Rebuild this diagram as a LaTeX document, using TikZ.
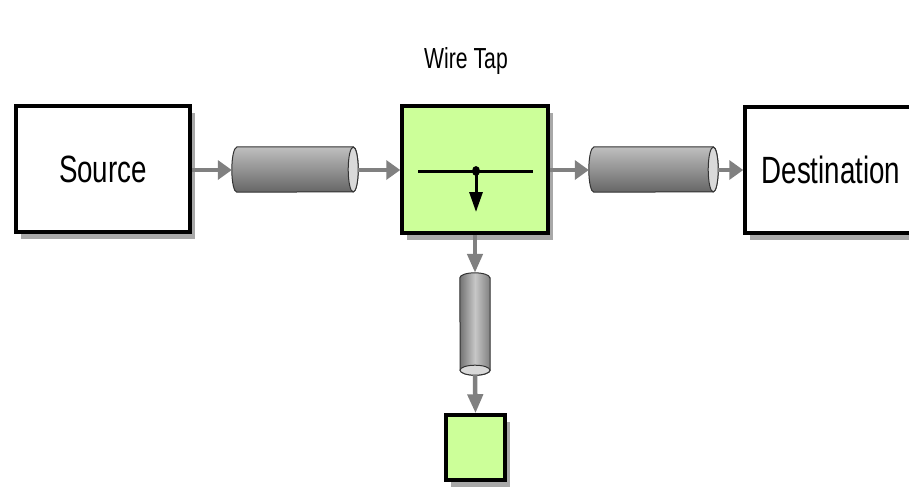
\documentclass[tikz,border=0pt]{standalone}
\usepackage{fontspec}
\usetikzlibrary{arrows.meta,shadows}
\newfontfamily\labelfont[FakeStretch=0.73]{Liberation Sans}
\definecolor{tapgreen}{HTML}{CCFF99}
\definecolor{flowgray}{HTML}{808080}

% horizontal channel drawn inside the (invisible) node #1, end radius 5pt, half height #2
\newcommand\hchannel[2]{%
  \path[cylbody,top color=black!25,bottom color=black!60]
    ([xshift=5pt]#1.north west) -- ([xshift=-5pt]#1.north east)
    arc[start angle=90,end angle=-90,x radius=5pt,y radius=#2]
    -- ([xshift=5pt]#1.south west)
    arc[start angle=270,end angle=90,x radius=5pt,y radius=#2] -- cycle;
  \path[cylend] ([xshift=-5pt]#1.east) ellipse[x radius=5pt,y radius=#2];
}
% vertical channel drawn inside node #1, half width #2, end radius 5pt
\newcommand\vchannel[2]{%
  \path[cylbody,left color=black!55,right color=black!50,middle color=black!22]
    ([yshift=-5pt]#1.north east) -- ([yshift=5pt]#1.south east)
    arc[start angle=0,end angle=-180,x radius=#2,y radius=5pt]
    -- ([yshift=-5pt]#1.north west)
    arc[start angle=180,end angle=0,x radius=#2,y radius=5pt] -- cycle;
  \path[cylend] ([yshift=5pt]#1.south) ellipse[x radius=#2,y radius=5pt];
}

\begin{document}
\begin{tikzpicture}[x=1pt,y=-1pt,
  box/.style={draw=black,line width=3.5pt,fill=white,rectangle,inner sep=0pt,
    drop shadow={shadow xshift=5pt,shadow yshift=-7pt,fill=black!45,opacity=0.75}},
  boxtext/.style={font=\labelfont\fontsize{38}{40}\selectfont},
  slot/.style={rectangle,draw=none,inner sep=0pt},
  cylbody/.style={draw=black!80,line width=1pt},
  cylend/.style={draw=black!80,line width=1pt,fill=black!15},
  flowh/.style={draw=flowgray,line width=4pt,-{Triangle[length=14pt,width=19pt]}},
  flowv/.style={draw=flowgray,line width=4.5pt,-{Triangle[length=19pt,width=15pt]}},
  tapline/.style={draw=black,line width=3pt}]

\fill[white] (0,0) rectangle (909,488);
\useasboundingbox (0,0) rectangle (909,488);
\clip (0,0) rectangle (909,488);

% endpoints and router
\node[box,boxtext,minimum width=174pt,minimum height=126pt] (src) at (103,169) {Source};
\node[box,fill=tapgreen,minimum width=146pt,minimum height=127pt] (tap) at (475,169.5) {};
\node[box,boxtext,minimum width=172pt,minimum height=126pt] (dst) at (831,170) {Destination};
\node[box,fill=tapgreen,minimum width=59pt,minimum height=65pt] (sq) at (475.5,447.5) {};
\node[font=\labelfont\fontsize{29}{31}\selectfont,anchor=base] (title) at (466,68) {Wire Tap};

% channels
\node[slot,minimum width=126pt,minimum height=45pt] (cy1) at (295,169.5) {};
\node[slot,minimum width=129pt,minimum height=45pt] (cy2) at (653.5,169.5) {};
\node[slot,minimum width=30pt,minimum height=102pt] (cy3) at (475,324) {};
\hchannel{cy1}{22.5pt}
\hchannel{cy2}{22.5pt}
\vchannel{cy3}{15pt}

% message flow
\draw[flowh] (src.east |- 0,170) -- (cy1.west |- 0,170);
\draw[flowh] (cy1.east |- 0,170) -- (tap.west |- 0,170);
\draw[flowh] (tap.east |- 0,170) -- (cy2.west |- 0,170);
\draw[flowh] (cy2.east |- 0,170) -- (dst.west |- 0,170);
\draw[flowv] (tap.south) -- (cy3.north);
\draw[flowv] (cy3.south) -- (sq.north);

% wire tap symbol
\coordinate (tapin) at (418,171);
\coordinate (tapout) at (533,171);
\coordinate (tapjoin) at (476,171);
\coordinate (tapdown) at (476,212);
\draw[tapline] (tapin) -- (tapout);
\draw[tapline,-{Triangle[length=20pt,width=13pt]}] (tapjoin) -- (tapdown);
\fill[black] (tapjoin) ellipse[x radius=4pt,y radius=5pt];
\end{tikzpicture}
\end{document}
